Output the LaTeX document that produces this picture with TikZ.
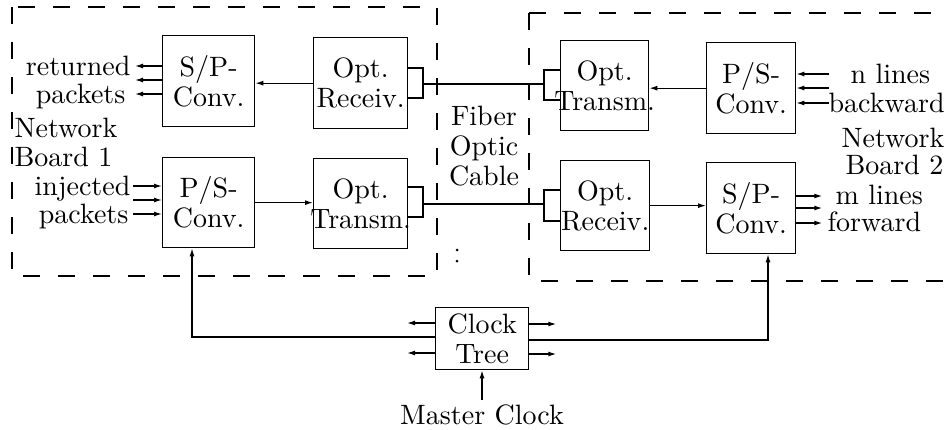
\documentclass[tikz,border=0pt]{standalone}
\usepackage{fontspec}
\setmainfont{lmroman10-regular.otf}
\usetikzlibrary{arrows.meta}
\newcommand\figfont{\fontsize{28}{30}\selectfont}
\newcommand\zw[1]{\makebox[0pt]{#1}}
\begin{document}
\begin{tikzpicture}[x=1pt,y=-1pt,line width=1.3pt,
  blk/.style={draw,inner sep=0pt,align=center,font=\figfont,anchor=north west},
  arr/.style={-{Latex[length=8pt,width=5pt]}},
  board/.style={draw,dash pattern=on 17pt off 18pt},
  lbl/.style={inner sep=0pt,font=\figfont}]
\useasboundingbox (0,0) rectangle (947,429);
% boards
\draw[board] (12,7) rectangle (437,276);
\draw[board] (529,13) -- (960,13);
\draw[board] (529,13) -- (529,281) -- (960,281);
% boxes
\node[blk,minimum width=92pt,minimum height=91pt] (sp1) at (162,35) {\zw{S/P-}\\\zw{Conv.}};
\node[blk,minimum width=94pt,minimum height=91pt] (or1) at (313,37) {\zw{Opt.}\\\zw{Receiv.}};
\node[blk,minimum width=92pt,minimum height=90pt] (ps1) at (162,157) {\zw{P/S-}\\\zw{Conv.}};
\node[blk,minimum width=94pt,minimum height=90pt] (ot1) at (313,158) {\zw{Opt.}\\\zw{Transm.}};
\node[blk,minimum width=88pt,minimum height=90pt] (ot2) at (560,40) {\zw{Opt.}\\\zw{Transm.}};
\node[blk,minimum width=89pt,minimum height=91pt] (ps2) at (706,42) {\zw{P/S-}\\\zw{Conv.}};
\node[blk,minimum width=89pt,minimum height=90pt] (or2) at (560,160) {\zw{Opt.}\\\zw{Receiv.}};
\node[blk,minimum width=89pt,minimum height=91pt] (sp2) at (706,162) {\zw{S/P-}\\\zw{Conv.}};
\node[blk,minimum width=93pt,minimum height=62pt] (clk) at (435,307) {\zw{Clock}\\\zw{Tree}};
% internal arrows
\draw[arr] (or1.west) -- (or1.west -| sp1.east);
\draw[arr] (ps1.east) -- (ps1.east -| ot1.west);
\draw[arr] (ps2.west) -- (ps2.west -| ot2.east);
\draw[arr] (or2.east) -- (or2.east -| sp2.west);
% connectors (brackets) and fibre
\draw (or1.east |- 0,68) -| (423,98) -- (or1.east |- 0,98);
\draw (ot1.east |- 0,187) -| (423,217) -- (ot1.east |- 0,217);
\draw (ot2.west |- 0,70) -| (544,100) -- (ot2.west |- 0,100);
\draw (or2.west |- 0,190) -| (544,221) -- (or2.west |- 0,221);
\coordinate (f1a) at (423,84);
\coordinate (f1b) at (544,84);
\coordinate (f2a) at (423,204);
\coordinate (f2b) at (544,204);
\draw (f1a) -- (f1b);
\draw (f2a) -- (f2b);
\fill (457,250) circle (1.5pt) (457,261) circle (1.5pt);
\node[lbl,align=center] (fiber) at (484,146) {Fiber\\Optic\\Cable};
% left side I/O
\draw[arr] (sp1.west |- 0,66) -- ++(-27,0);
\draw[arr] (sp1.west |- 0,80) -- ++(-27,0);
\draw[arr] (sp1.west |- 0,94) -- ++(-27,0);
\node[lbl,anchor=base east] (ret) at (131,75) {returned};
\node[lbl,anchor=base east] (rpk) at (126,103) {packets};
\draw[arr] (133,186) coordinate (i1) -- (i1 -| ps1.west);
\draw[arr] (133,200) coordinate (i2) -- (i2 -| ps1.west);
\draw[arr] (133,214) coordinate (i3) -- (i3 -| ps1.west);
\node[lbl,anchor=base east] (inj) at (131,195) {injected};
\node[lbl,anchor=base east] (ipk) at (129,223) {packets};
\node[lbl,anchor=base west] (nb1a) at (14,137) {Network};
\node[lbl,anchor=base west] (nb1b) at (14,166) {Board 1};
% right side I/O
\draw[arr] (829,74) coordinate (n1) -- (n1 -| ps2.east);
\draw[arr] (829,88) coordinate (n2) -- (n2 -| ps2.east);
\draw[arr] (829,103) coordinate (n3) -- (n3 -| ps2.east);
\node[lbl,anchor=base west] (nl) at (850,83) {n lines};
\node[lbl,anchor=base west] (bw) at (828,112) {backward};
\node[lbl,anchor=base west] (nb2a) at (841,147) {Network};
\node[lbl,anchor=base west] (nb2b) at (845,174) {Board 2};
\draw[arr] (sp2.east |- 0,196) -- ++(26,0);
\draw[arr] (sp2.east |- 0,208) -- ++(26,0);
\draw[arr] (sp2.east |- 0,223) -- ++(26,0);
\node[lbl,anchor=base west] (ml) at (835,204) {m lines};
\node[lbl,anchor=base west] (fw) at (827,231) {forward};
% clock
\draw[arr] (clk.west |- 0,337) -| ([xshift=30pt]ps1.south west);
\draw[arr] (clk.east |- 0,340) -| ([xshift=62pt]sp2.south west);
\draw[arr] (clk.west |- 0,323) -- ++(-28,0);
\draw[arr] (clk.west |- 0,353) -- ++(-28,0);
\draw[arr] (clk.east |- 0,324) -- ++(27,0);
\draw[arr] (clk.east |- 0,354) -- ++(27,0);
\node[lbl,anchor=base] (mc) at (482,424) {Master Clock};
\draw[arr] ([yshift=4pt]mc.north) -- (mc.north |- clk.south);
\end{tikzpicture}
\end{document}
